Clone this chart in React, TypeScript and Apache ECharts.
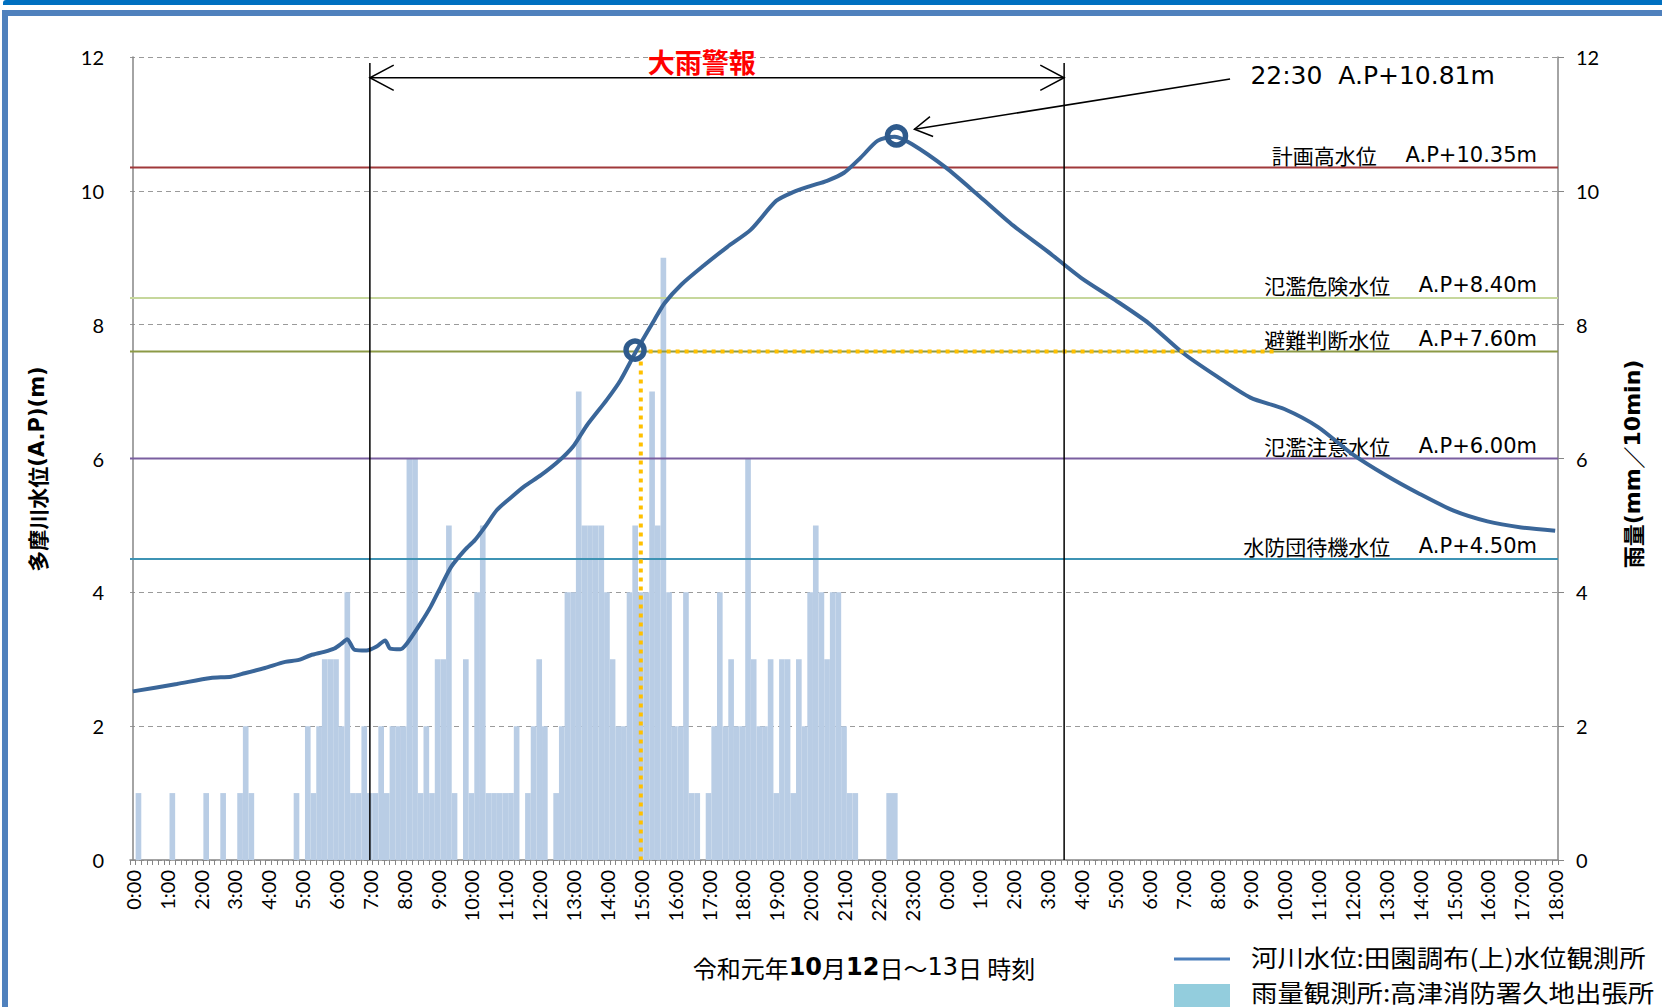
import React, { useEffect, useRef } from 'react';
import * as echarts from 'echarts';

// hour tick labels (12th 0:00 -> 13th 18:00)
const hourLabels = [
  '0:00', '1:00', '2:00', '3:00', '4:00', '5:00', '6:00', '7:00', '8:00', '9:00', '10:00', '11:00',
  '12:00', '13:00', '14:00', '15:00', '16:00', '17:00', '18:00', '19:00', '20:00', '21:00', '22:00', '23:00',
  '0:00', '1:00', '2:00', '3:00', '4:00', '5:00', '6:00', '7:00', '8:00', '9:00', '10:00', '11:00',
  '12:00', '13:00', '14:00', '15:00', '16:00', '17:00', '18:00',
];

// 10-minute rainfall (mm/10min), one row per hour
const rainfall = [
  0, 1, 0, 0, 0, 0, // 0:00
  0, 1, 0, 0, 0, 0, // 1:00
  0, 1, 0, 0, 1, 0, // 2:00
  0, 1, 2, 1, 0, 0, // 3:00
  0, 0, 0, 0, 0, 1, // 4:00
  0, 2, 1, 2, 3, 3, // 5:00
  3, 2, 4, 1, 1, 2, // 6:00
  1, 1, 2, 1, 2, 2, // 7:00
  2, 6, 6, 1, 2, 1, // 8:00
  3, 3, 5, 1, 0, 3, // 9:00
  1, 4, 5, 1, 1, 1, // 10:00
  1, 1, 2, 0, 1, 2, // 11:00
  3, 2, 0, 1, 2, 4, // 12:00
  4, 7, 5, 5, 5, 5, // 13:00
  4, 3, 2, 2, 4, 5, // 14:00
  4, 4, 7, 5, 9, 4, // 15:00
  2, 2, 4, 1, 1, 0, // 16:00
  1, 2, 4, 2, 3, 2, // 17:00
  2, 6, 3, 2, 2, 3, // 18:00
  1, 3, 3, 1, 3, 2, // 19:00
  4, 5, 4, 3, 4, 4, // 20:00
  2, 1, 1, 0, 0, 0, // 21:00
  0, 0, 1, 1, 0, 0, // 22:00
  0, 0, 0, 0, 0, 0, // 23:00
  0, 0, 0, 0, 0, 0, // 0:00
  0, 0, 0, 0, 0, 0, // 1:00
  0, 0, 0, 0, 0, 0, // 2:00
  0, 0, 0, 0, 0, 0, // 3:00
  0, 0, 0, 0, 0, 0, // 4:00
  0, 0, 0, 0, 0, 0, // 5:00
  0, 0, 0, 0, 0, 0, // 6:00
  0, 0, 0, 0, 0, 0, // 7:00
  0, 0, 0, 0, 0, 0, // 8:00
  0, 0, 0, 0, 0, 0, // 9:00
  0, 0, 0, 0, 0, 0, // 10:00
  0, 0, 0, 0, 0, 0, // 11:00
  0, 0, 0, 0, 0, 0, // 12:00
  0, 0, 0, 0, 0, 0, // 13:00
  0, 0, 0, 0, 0, 0, // 14:00
  0, 0, 0, 0, 0, 0, // 15:00
  0, 0, 0, 0, 0, 0, // 16:00
  0, 0, 0, 0, 0, 0, // 17:00
  0, // 18:00
];

// river water level (A.P m): elapsed hours since 12th 0:00, level
const levelHours = [
  0, 1.3, 2.3, 2.9, 3.3, 3.9, 4.5, 4.9, 5.25, 5.65, 5.95, 6.15, 6.33, 6.55, 6.9, 7.2, 7.45, 7.6, 7.9,
  8.1, 8.5, 8.8, 9.1, 9.4, 9.8, 10.1, 10.4, 10.75, 11.15, 11.55, 12.05, 12.55, 13.0, 13.4, 14.0, 14.4,
  14.88, 15.4, 15.7, 16.2, 16.85, 17.55, 18.25, 19.0, 19.5, 20.0, 20.5, 21.0, 21.5, 22.0, 22.5, 23.0,
  24, 25, 26, 27, 28, 29, 30, 31, 32, 33, 34, 35, 36, 37, 38, 39, 40, 41, 42,
];
const levelValues = [
  2.52, 2.63, 2.72, 2.74, 2.79, 2.87, 2.96, 2.99, 3.06, 3.11, 3.16, 3.23, 3.30, 3.14, 3.13, 3.19, 3.28, 3.16, 3.15,
  3.24, 3.54, 3.79, 4.09, 4.38, 4.63, 4.78, 4.98, 5.23, 5.41, 5.58, 5.75, 5.95, 6.18, 6.49, 6.88, 7.17,
  7.62, 8.07, 8.32, 8.60, 8.88, 9.16, 9.42, 9.85, 9.98, 10.07, 10.15, 10.27, 10.50, 10.75, 10.81, 10.70,
  10.35, 9.92, 9.48, 9.10, 8.70, 8.37, 8.02, 7.58, 7.23, 6.91, 6.74, 6.47, 6.07, 5.75, 5.47, 5.22, 5.06, 4.97, 4.92,
];

// reference water levels
const thresholdValues = [10.35, 8.4, 7.6, 6.0, 4.5];
const thresholdNames = ['計画高水位', '氾濫危険水位', '避難判断水位', '氾濫注意水位', '水防団待機水位'];
const thresholdLevels = ['A.P+10.35m', 'A.P+8.40m', 'A.P+7.60m', 'A.P+6.00m', 'A.P+4.50m'];
const thresholdColors = ['#A0393A', '#C6D79C', '#8C9A46', '#7A5FA0', '#3E93B4'];

// annotations (hours / levels)
const warningSpan = [7.0, 27.5];
const warningLabel = '大雨警報';
const peakPoint = [22.55, 10.82];
const peakLabel = '22:30  A.P+10.81m';
const evacPoint = [14.83, 7.62];
const evacTime = 15.0;
const evacLineEnd = 33.8;

// legend entries
const legendLineLabel = '河川水位:田園調布(上)水位観測所';
const legendBarLabel = '雨量観測所:高津消防署久地出張所';

const JP = '"Noto Sans CJK JP"';
const NUM = 'Lato, "Noto Sans CJK JP"';
const LAT = '"DejaVu Sans"';
const TOTAL_H = 42;
const HALF_SLOT = 1 / 12;

const categories = rainfall.map((_, i) => `${i < 144 ? '12' : '13'}日 ${Math.floor(i / 6) % 24}:${(i % 6) * 10}`);

function txt(x: number, y: number, text: string, font: string, fill: string, align: string, valign: string, scaleX = 1) {
  return {
    type: 'text', x, y, scaleX,
    style: { text, font, fill, align, verticalAlign: valign, textAlign: align, textVerticalAlign: valign },
  };
}

function arrowHead(tip: number[], from: number[], len: number, angleDeg: number) {
  const dx = tip[0] - from[0];
  const dy = tip[1] - from[1];
  const d = Math.sqrt(dx * dx + dy * dy);
  const ux = dx / d, uy = dy / d;
  const a = (angleDeg * Math.PI) / 180;
  const c = Math.cos(a), s = Math.sin(a);
  const p1 = [tip[0] - len * (ux * c - uy * s), tip[1] - len * (uy * c + ux * s)];
  const p2 = [tip[0] - len * (ux * c + uy * s), tip[1] - len * (uy * c - ux * s)];
  return { type: 'polyline', shape: { points: [p1, tip, p2] }, style: { stroke: '#000', lineWidth: 1.5, fill: null } };
}

function richText(x: number, y: number, text: string, size: number, rich: any, opts: any = {}) {
  return {
    type: 'text', x, y, rotation: opts.rotation || 0,
    style: {
      text, fontSize: size, fontFamily: JP, fontWeight: opts.bold ? 'bold' : 'normal', fill: '#000', rich,
      align: opts.align || 'left', verticalAlign: 'middle',
      textAlign: opts.align || 'left', textVerticalAlign: 'middle',
    },
  };
}

export default function App() {
  const ref = useRef<HTMLDivElement>(null);
  useEffect(() => {
    const chart = echarts.init(ref.current!, null, { renderer: 'svg' });
    const option: any = {
      animation: false,
      backgroundColor: '#ffffff',
      grid: { left: 130, right: 104, top: 57, bottom: 147, containLabel: false },
      xAxis: [
        {
          type: 'category',
          data: categories,
          boundaryGap: true,
          axisLine: { lineStyle: { color: '#868686', width: 1.5 } },
          axisTick: { show: true, interval: 0, length: 5, lineStyle: { color: '#868686' } },
          axisLabel: {
            interval: 5,
            rotate: 90,
            margin: 10,
            color: '#000',
            fontSize: 20,
            fontFamily: NUM,
            formatter: (_v: string, idx: number) => (idx % 6 === 0 ? hourLabels[idx / 6] : ''),
          },
          splitLine: { show: false },
        },
        { type: 'value', min: -HALF_SLOT, max: TOTAL_H + HALF_SLOT, show: false },
      ],
      yAxis: [
        {
          type: 'value', min: 0, max: 12, interval: 2, position: 'left',
          axisLine: { show: true, lineStyle: { color: '#868686', width: 1.5 } },
          axisTick: { show: false },
          axisLabel: { fontSize: 20, fontFamily: NUM, color: '#000', margin: 26 },
          splitLine: { show: true, lineStyle: { color: '#9A9A9A', type: [5, 4], width: 1.2 } },
        },
        {
          type: 'value', min: 0, max: 12, interval: 2, position: 'right',
          axisLine: { show: true, lineStyle: { color: '#868686', width: 1.5 } },
          axisTick: { show: true, length: 6, lineStyle: { color: '#868686' } },
          axisLabel: { fontSize: 20, fontFamily: NUM, color: '#000', margin: 18 },
          splitLine: { show: false },
        },
      ],
      series: [
        {
          name: legendBarLabel,
          type: 'bar', xAxisIndex: 0, yAxisIndex: 1, z: 1,
          data: rainfall,
          barCategoryGap: '0%',
          itemStyle: { color: '#B9CDE5' },
        },
        {
          type: 'custom', xAxisIndex: 1, yAxisIndex: 0, z: 3, silent: true, clip: false,
          data: thresholdValues.map((v) => [0, v]),
          renderItem: (params: any, api: any) => {
            const cs = params.coordSys;
            const i = params.dataIndex;
            const y = api.coord([0, api.value(1)])[1];
            return {
              type: 'group',
              children: [
                { type: 'line', shape: { x1: cs.x, y1: y, x2: cs.x + cs.width, y2: y }, style: { stroke: thresholdColors[i], lineWidth: 2 } },
                {
                  type: 'text', x: cs.x + cs.width - 21, y: y - 2,
                  style: {
                    text: `{j|${thresholdNames[i]}} {l|${thresholdLevels[i]}}`,
                    fontSize: 21, fontFamily: JP, fill: '#000',
                    rich: {
                      j: { fontSize: 21, fontFamily: JP, fill: '#000' },
                      l: { fontSize: 21, fontFamily: LAT, fill: '#000', padding: [0, 0, 0, 24] },
                    },
                    align: 'right', verticalAlign: 'bottom', textAlign: 'right', textVerticalAlign: 'bottom',
                  },
                },
              ],
            };
          },
        },
        {
          name: legendLineLabel,
          type: 'line', xAxisIndex: 1, yAxisIndex: 0, z: 4,
          data: levelHours.map((h, i) => [h, levelValues[i]]),
          showSymbol: false, smooth: 0.25,
          lineStyle: { color: '#3A6699', width: 4 },
        },
        {
          type: 'custom', xAxisIndex: 1, yAxisIndex: 0, z: 5, silent: true, clip: false,
          data: [[0, 0]],
          renderItem: (_params: any, api: any) => {
            const [x1, yb] = api.coord([warningSpan[0], 0]);
            const [x2] = api.coord([warningSpan[1], 0]);
            const yt = api.coord([0, 11.91])[1];
            const ya = api.coord([0, 11.69])[1];
            const lab = api.coord([16.8, 11.93]);
            const pk = api.coord(peakPoint);
            const aFrom = api.coord([32.4, 11.67]);
            const aTo = api.coord([23.08, 10.92]);
            const pl = api.coord([33.0, 11.72]);
            const ev = api.coord(evacPoint);
            const evV = api.coord([evacTime, 7.45]);
            const ev0 = api.coord([evacTime, 0]);
            const evH1 = api.coord([15.23, 7.6]);
            const evH2 = api.coord([evacLineEnd, 7.6]);
            const dotted = { stroke: '#FFC000', lineWidth: 4, lineDash: [4, 5] };
            return {
              type: 'group',
              children: [
                { type: 'line', shape: { x1: evV[0], y1: evV[1], x2: ev0[0], y2: ev0[1] }, style: dotted },
                { type: 'line', shape: { x1: evH1[0], y1: evH1[1], x2: evH2[0], y2: evH2[1] }, style: dotted },
                { type: 'circle', shape: { cx: ev[0], cy: ev[1], r: 9 }, style: { fill: 'none', stroke: '#2E5A8C', lineWidth: 5.5 } },
                { type: 'circle', shape: { cx: pk[0], cy: pk[1], r: 9 }, style: { fill: 'none', stroke: '#2E5A8C', lineWidth: 5.5 } },
                { type: 'line', shape: { x1, y1: yt, x2: x1, y2: yb }, style: { stroke: '#000', lineWidth: 1.5 } },
                { type: 'line', shape: { x1: x2, y1: yt, x2, y2: yb }, style: { stroke: '#000', lineWidth: 1.5 } },
                { type: 'line', shape: { x1, y1: ya, x2, y2: ya }, style: { stroke: '#000', lineWidth: 1.3 } },
                arrowHead([x1, ya], [x2, ya], 27, 28),
                arrowHead([x2, ya], [x1, ya], 27, 28),
                txt(lab[0], lab[1], warningLabel, `bold 27px ${JP}`, '#FF0000', 'center', 'middle'),
                { type: 'line', shape: { x1: aFrom[0], y1: aFrom[1], x2: aTo[0], y2: aTo[1] }, style: { stroke: '#000', lineWidth: 1.5 } },
                arrowHead(aTo, aFrom, 20, 30),
                txt(pl[0], pl[1], peakLabel, `25px ${LAT}`, '#000', 'left', 'middle'),
              ],
            };
          },
        },
      ],
      graphic: [
        { type: 'rect', shape: { x: 3, y: 0, width: 1680, height: 5, r: [3, 0, 0, 0] }, style: { fill: '#0070C0' } },
        { type: 'rect', shape: { x: 5, y: 13, width: 1700, height: 1100 }, style: { fill: 'none', stroke: '#4F81BD', lineWidth: 6 } },
        // left axis name
        richText(37, 469, '多摩川水位{l|(A.P)(m)}', 21,
          { l: { fontSize: 21, fontFamily: LAT, fontWeight: 'bold', fill: '#000' } },
          { rotation: Math.PI / 2, align: 'center', bold: true }),
        // right axis name
        richText(1632, 464, '雨量{l|(mm}／{l|10min)}', 22,
          { l: { fontSize: 22, fontFamily: LAT, fontWeight: 'bold', fill: '#000' } },
          { rotation: Math.PI / 2, align: 'center', bold: true }),
        // x axis title
        richText(864, 967, '令和元年{b|10}月{b|12}日～{d|13}日 時刻', 24,
          {
            b: { fontSize: 24, fontFamily: LAT, fontWeight: 'bold', fill: '#000' },
            d: { fontSize: 24, fontFamily: LAT, fill: '#000' },
          },
          { align: 'center' }),
        // legend
        { type: 'line', shape: { x1: 1174, y1: 959, x2: 1230, y2: 959 }, style: { stroke: '#4A7EBB', lineWidth: 3 } },
        txt(1251, 957, legendLineLabel, `24px ${JP}`, '#000', 'left', 'middle', 1.1),
        { type: 'rect', shape: { x: 1174, y: 984, width: 56, height: 23 }, style: { fill: '#93CDDD' } },
        txt(1251, 992, legendBarLabel, `24px ${JP}`, '#000', 'left', 'middle', 1.1),
      ],
    };
    chart.setOption(option);
    return () => chart.dispose();
  }, []);
  return (
    <div
      ref={ref}
      style={{ position: 'fixed', left: 0, top: 0, width: 1662, height: 1007, background: '#fff' }}
    />
  );
}
